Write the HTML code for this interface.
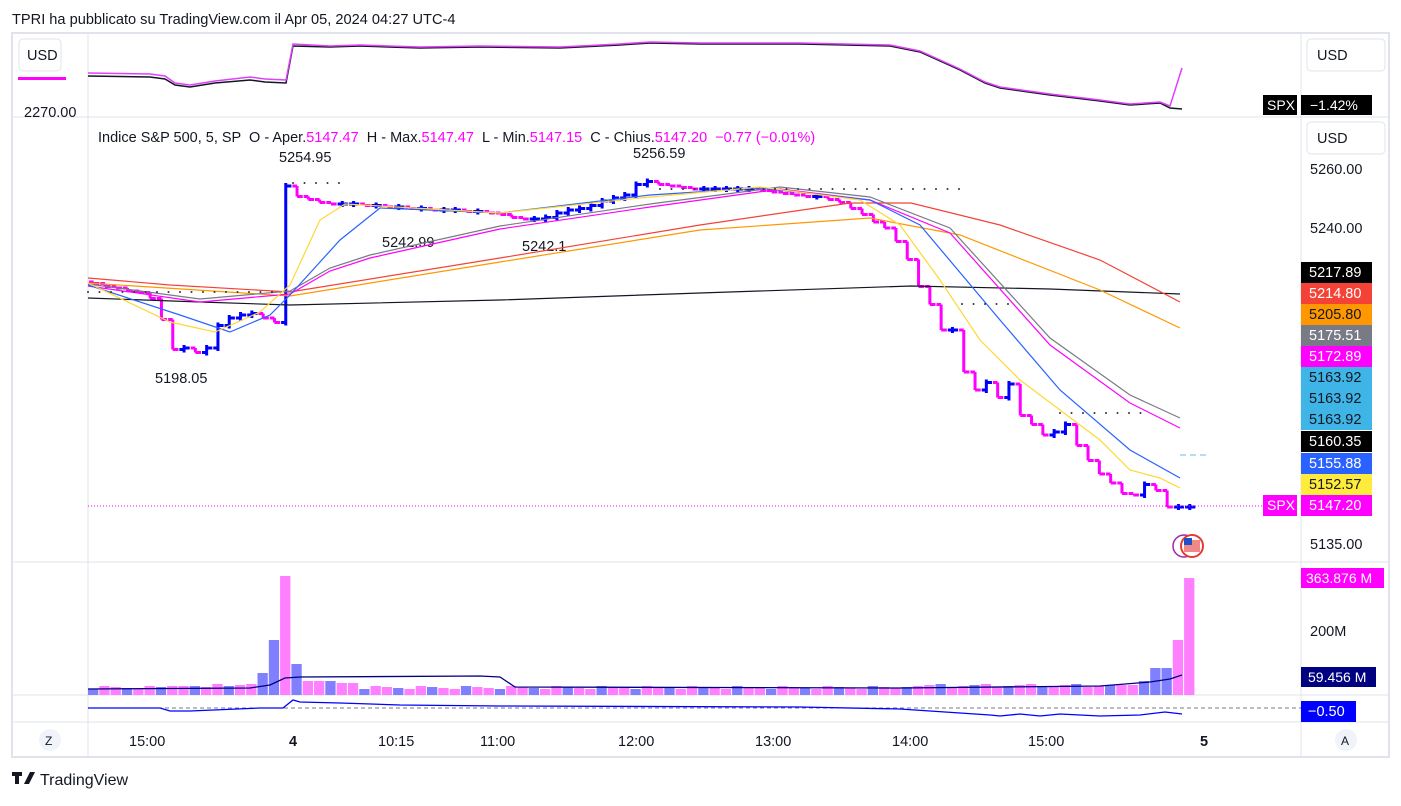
<!DOCTYPE html><html><head><meta charset="utf-8"><style>
body{margin:0;background:#fff;font-family:"Liberation Sans",sans-serif;}
svg text{font-family:"Liberation Sans",sans-serif;white-space:pre;}
</style></head><body>
<svg id="s" width="1401" height="801" xmlns="http://www.w3.org/2000/svg" xml:space="preserve">
<rect width="1401" height="801" fill="#fff"/>
<text x="12" y="24" font-size="14.6" fill="#131722">TPRI ha pubblicato su TradingView.com il Apr 05, 2024 04:27 UTC-4</text>
<rect x="12" y="33" width="1377" height="724" fill="none" stroke="#e0e3eb" stroke-width="2"/>
<g stroke="#e0e3eb" stroke-width="1">
<line x1="88" y1="33" x2="88" y2="757"/><line x1="1301" y1="33" x2="1301" y2="757"/>
<line x1="12" y1="117" x2="1389" y2="117"/><line x1="12" y1="562" x2="1389" y2="562"/>
<line x1="12" y1="695" x2="1389" y2="695"/><line x1="12" y1="722" x2="1389" y2="722"/>
</g>
<rect x="19" y="39" width="42" height="32" rx="4" fill="#fff" stroke="#e0e3eb"/>
<text x="27" y="60" font-size="14.5" fill="#131722">USD</text>
<rect x="18" y="77" width="48" height="3" fill="#ff00ff"/>
<text x="24" y="117" font-size="14.5" fill="#131722">2270.00</text>
<rect x="1307" y="39" width="78" height="32" rx="4" fill="#fff" stroke="#e0e3eb"/>
<text x="1317" y="60" font-size="14.5" fill="#131722">USD</text>
<rect x="1307" y="122" width="78" height="32" rx="4" fill="#fff" stroke="#e0e3eb"/>
<text x="1317" y="143" font-size="14.5" fill="#131722">USD</text>
<text x="98" y="142" font-size="14.5" fill="#131722">Indice S&amp;P 500, 5, SP  O - Aper.<tspan fill="#ff00ff">5147.47</tspan>  H - Max.<tspan fill="#ff00ff">5147.47</tspan>  L - Min.<tspan fill="#ff00ff">5147.15</tspan>  C - Chius.<tspan fill="#ff00ff">5147.20</tspan>  <tspan fill="#ff00ff">−0.77 (−0.01%)</tspan></text>
<g font-size="14.5" fill="#131722">
<text x="279" y="162">5254.95</text><text x="633" y="158">5256.59</text>
<text x="382" y="247">5242.99</text><text x="522" y="251">5242.1</text>
<text x="155" y="383">5198.05</text>
<text x="1310" y="174">5260.00</text><text x="1310" y="233">5240.00</text>
<text x="1310" y="549">5135.00</text><text x="1310" y="636">200M</text>
<text x="129" y="746">15:00</text><text x="289" y="746" font-weight="bold">4</text>
<text x="378" y="746">10:15</text><text x="480" y="746">11:00</text><text x="618" y="746">12:00</text>
<text x="755" y="746">13:00</text><text x="892" y="746">14:00</text><text x="1028" y="746">15:00</text>
<text x="1200" y="746" font-weight="bold">5</text>
</g>
<circle cx="50" cy="740" r="11" fill="#f0f3fa"/><text x="45" y="745" font-size="12" fill="#131722">Z</text>
<circle cx="1346" cy="740" r="11" fill="#f0f3fa"/><text x="1341" y="745" font-size="12" fill="#131722">A</text>
<text x="40" y="785" font-size="16" fill="#131722">TradingView</text>
<rect x="12" y="772" width="10" height="4" fill="#131722"/><rect x="15" y="772" width="4" height="12" fill="#131722"/><polygon points="24,784 30,772 35,772 29,784" fill="#131722"/>
<g id="g"></g>
<circle cx="1184" cy="546" r="11" fill="none" stroke="#9c27b0" stroke-width="1.5"/>
<circle cx="1192" cy="546" r="11" fill="#fff" stroke="#e53935" stroke-width="2"/>
<rect x="1184" y="540" width="16" height="12" fill="#e53935" opacity=".6"/>
<rect x="1184" y="538" width="8" height="7" fill="#1e50c8"/>
</svg>
<script>
var g=document.getElementById('g'),h='';
function Y(p){return 168+(5260-p)*3;}
function pl(pts,c,w,extra){h+='<polyline fill="none" stroke="'+c+'" stroke-width="'+(w||1.2)+'" '+(extra||'')+' points="'+pts.map(function(p){return p.join(',')}).join(' ')+'"/>';}
pl([[88,76],[150,77],[165,79],[175,85],[190,87],[215,83],[250,80],[265,82],[286,83],[293,46],[330,47],[360,46],[420,48],[480,47],[560,48],[620,45],[650,43],[700,44],[800,44],[890,46],[920,52],[960,70],[985,83],[1000,88],[1050,95],[1100,101],[1130,105],[1160,103],[1170,108],[1182,109]],'#131722',1.5);
pl([[88,73],[150,74],[165,76],[175,83],[190,85],[215,81],[250,77],[265,79],[286,80],[293,44],[330,46],[360,45],[420,47],[480,46],[560,47],[620,44],[650,42],[700,43],[800,43],[890,45],[920,51],[960,69],[985,82],[1000,87],[1050,94],[1100,100],[1130,104],[1160,102],[1170,106],[1182,68]],'#e040fb',1.5);
h+='<rect x="1263" y="95" width="34" height="20" fill="#000"/><text x="1267" y="110" font-size="14" fill="#fff">SPX</text>';
h+='<rect x="1301" y="95" width="71" height="20" fill="#000"/><text x="1310" y="110" font-size="14" fill="#fff">−1.42%</text>';
var K=[[88,5222],[120,5220],[150,5218],[165,5214],[170,5203],[180,5199],[190,5200],[205,5198],[215,5201],[222,5207],[235,5210],[255,5212],[270,5210],[285,5208],[291,5254],[305,5250],[320,5249],[340,5248],[360,5248],[400,5247],[450,5246],[500,5245],[520,5243],[545,5243],[565,5245],[600,5248],[630,5251],[648,5256],[670,5254],[700,5253],[760,5253],[780,5252],[800,5251],[830,5250],[850,5248],[870,5244],[890,5240],[905,5234],[915,5228],[925,5220],[935,5215],[945,5205],[955,5210],[967,5195],[977,5183],[988,5192],[1000,5182],[1015,5188],[1025,5178],[1045,5172],[1055,5169],[1067,5177],[1080,5169],[1090,5162],[1100,5163],[1110,5153],[1120,5156],[1130,5150],[1145,5152],[1155,5157],[1170,5147],[1182,5147]];
function P(x){for(var i=1;i<K.length;i++)if(x<=K[i][0]){var a=K[i-1],b=K[i];return a[1]+(b[1]-a[1])*(x-a[0])/(b[0]-a[0]);}return 5147;}
var bw=11.3,prev=P(88);
for(var x=88;x<1185;x+=bw){var c=Math.round(P(x+bw)*2)/2;var up=c>=prev;var col=up?'#0000ff':'#ff00ff';
h+='<path d="M'+(x+bw/2)+' '+Y(prev)+' L'+(x+bw/2)+' '+Y(c)+(up?' M'+(x+bw/2)+' '+(Y(Math.max(c,prev))-3)+' L'+(x+bw/2)+' '+(Y(Math.min(c,prev))+3):'')+' M'+(x+1)+' '+Y(prev)+' L'+(x+bw/2)+' '+Y(prev)+' M'+(x+bw/2)+' '+Y(c)+' L'+(x+bw)+' '+Y(c)+'" stroke="'+col+'" stroke-width="3" fill="none"/>';prev=c;}
pl([[88,298],[200,302],[290,305],[500,300],[700,293],[911,286],[1050,289],[1180,294]],'#131722',1.2);
pl([[88,278],[170,285],[290,292],[500,258],[700,225],[850,203],[911,203],[1000,225],[1100,260],[1180,302]],'#f44336',1.2);
pl([[88,283],[290,296],[500,262],[700,230],[870,218],[960,235],[1100,290],[1180,328]],'#ff9800',1.2);
pl([[88,284],[200,299],[290,291],[330,268],[370,255],[500,226],[650,204],[780,187],[870,197],[950,228],[1050,338],[1130,395],[1180,418]],'#787b86',1.2);
pl([[88,286],[200,302],[290,294],[330,271],[370,258],[500,229],[650,207],[780,189],[870,200],[950,233],[1050,345],[1130,403],[1180,428]],'#ff00ff',1.2);
pl([[88,285],[180,315],[230,332],[270,315],[290,295],[340,240],[380,208],[500,213],[650,195],[760,188],[870,200],[920,225],[1000,320],[1060,390],[1130,450],[1180,478]],'#2962ff',1.2);
pl([[88,283],[170,322],[215,332],[260,312],[290,285],[320,220],[345,204],[500,213],[640,198],[760,187],[860,200],[900,225],[940,280],[980,340],[1020,380],[1060,410],[1100,440],[1130,470],[1160,478],[1180,488]],'#fdd835',1.2);
function dots(x1,x2,y){for(var x=x1;x<=x2;x+=11.5)h+='<circle cx="'+x+'" cy="'+y+'" r="1" fill="#333"/>';}
dots(293,350,183);dots(660,960,189);dots(962,1015,304);dots(1060,1148,413);dots(88,280,292);
h+='<line x1="1180" y1="455" x2="1210" y2="455" stroke="#9ad4ec" stroke-width="1.5" stroke-dasharray="6,4"/>';
h+='<line x1="88" y1="506" x2="1263" y2="506" stroke="#ff00ff" stroke-width="1" stroke-dasharray="1,2"/>';
var L=[[272,'5217.89','#000','#fff'],[293,'5214.80','#f44336','#fff'],[314,'5205.80','#ff9800','#131722'],[335,'5175.51','#787b86','#fff'],[356,'5172.89','#ff00ff','#fff'],[377,'5163.92','#3fb4e6','#131722'],[398,'5163.92','#3fb4e6','#131722'],[419,'5163.92','#3fb4e6','#131722'],[441,'5160.35','#000','#fff'],[463,'5155.88','#2962ff','#fff'],[484,'5152.57','#ffeb3b','#131722'],[505,'5147.20','#ff00ff','#fff']];
L.forEach(function(l){h+='<rect x="1301" y="'+(l[0]-10)+'" width="71" height="21" fill="'+l[2]+'"/><text x="1309" y="'+(l[0]+5)+'" font-size="14.5" fill="'+l[3]+'">'+l[1]+'</text>';});
h+='<rect x="1263" y="495" width="34" height="21" fill="#ff00ff"/><text x="1267" y="510" font-size="14" fill="#fff">SPX</text>';
var i=0;for(var x=88;x<1186;x+=11.3,i++){var v=6+((i*7)%4);
if(x>160&&x<200)v=9;if(x>210&&x<250)v=9+(i%3);if(x>250&&x<262)v=22;if(x>262&&x<275)v=55;if(x>275&&x<287)v=119;if(x>287&&x<298)v=31;if(x>298&&x<330)v=14;if(x>330&&x<350)v=12;
if(x>900&&x<1100)v=8+(i%4);if(x>1100&&x<1130)v=10;if(x>1130&&x<1150)v=14;if(x>1150&&x<1162)v=27;if(x>1162&&x<1174)v=55;if(x>1174)v=117;
var up=(i*5+3)%3==0;if(x>250&&x<298)up=(x<275||x>287);if(x>1150&&x<1162)up=true;if(x>1162)up=false;
h+='<rect x="'+x+'" y="'+(695-v)+'" width="10.3" height="'+v+'" fill="'+(up?'#8080ff':'#ff80ff')+'"/>';}
pl([[88,689],[250,688],[270,685],[285,678],[300,677],[480,676],[500,677],[515,687],[900,688],[1100,686],[1150,682],[1170,679],[1182,675]],'#000080',1.3);
h+='<rect x="1301" y="568" width="83" height="20" fill="#ff00ff"/><text x="1306" y="583" font-size="14" fill="#fff">363.876 M</text>';
h+='<rect x="1301" y="667" width="75" height="20" fill="#000080"/><text x="1308" y="682" font-size="14" fill="#fff">59.456 M</text>';
h+='<line x1="88" y1="708" x2="1301" y2="708" stroke="#787b86" stroke-dasharray="4,3"/>';
pl([[88,708],[160,708],[170,711],[190,711],[260,708],[283,708],[293,700],[300,702],[340,703],[400,705],[500,706],[800,707],[900,709],[960,713],[990,715],[1000,716],[1020,714],[1040,716],[1060,714],[1100,716],[1140,715],[1165,712],[1182,714]],'#0000ff',1.3);
h+='<rect x="1301" y="701" width="55" height="21" fill="#0000ff"/><text x="1308" y="716" font-size="14.5" fill="#fff">−0.50</text>';
g.innerHTML=h;
</script>
</body></html>
